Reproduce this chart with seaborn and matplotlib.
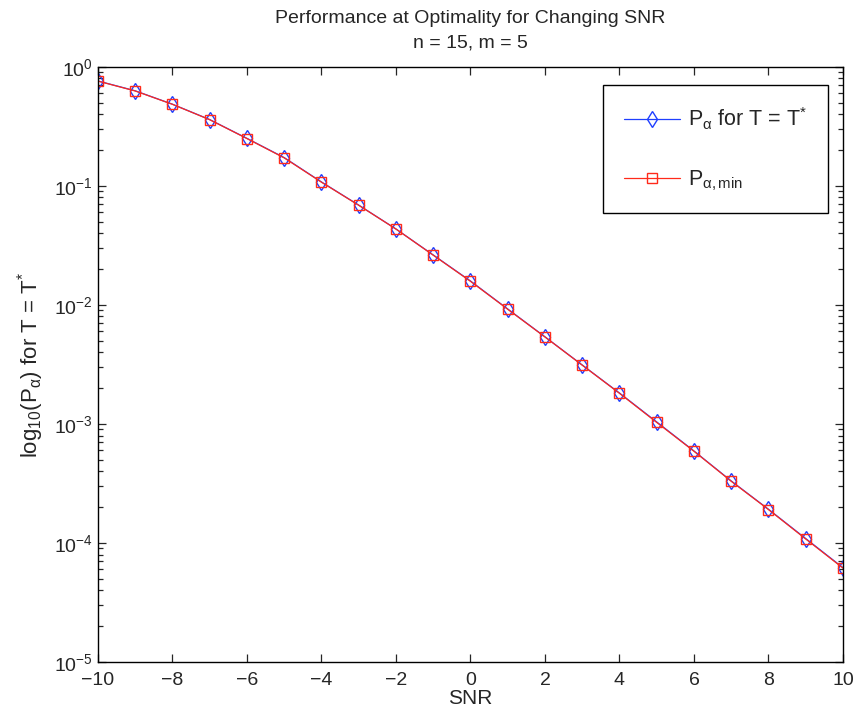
import numpy as np
import pandas as pd
import matplotlib
matplotlib.use('Agg')
import matplotlib.pyplot as plt
import seaborn as sns
from matplotlib.ticker import LogLocator, NullFormatter

# values
snr = [-10, -9, -8, -7, -6, -5, -4, -3, -2, -1, 0, 1, 2, 3, 4, 5, 6, 7, 8, 9, 10]
p_alpha_opt = [0.762, 0.63, 0.486, 0.361, 0.251, 0.173, 0.108, 0.069, 0.0435, 0.0263,
               0.0159, 0.00925, 0.0054, 0.00313, 0.00182, 0.00104, 5.93e-4, 3.32e-4,
               1.92e-4, 1.09e-4, 6.2e-5]
p_alpha_min = [0.760, 0.628, 0.485, 0.360, 0.250, 0.172, 0.1075, 0.0688, 0.0434, 0.0262,
               0.0158, 0.0092, 0.00538, 0.00312, 0.00181, 0.00103, 5.9e-4, 3.3e-4,
               1.91e-4, 1.08e-4, 6.15e-5]

df = pd.DataFrame({'SNR': snr, 'opt': p_alpha_opt, 'min': p_alpha_min})

sns.set_style('ticks')
plt.rcParams['font.family'] = ['Liberation Sans', 'DejaVu Sans']
plt.rcParams['mathtext.fontset'] = 'custom'
plt.rcParams['mathtext.rm'] = 'Liberation Sans'
plt.rcParams['mathtext.it'] = 'Liberation Sans:italic'
plt.rcParams['mathtext.default'] = 'rm'
plt.rcParams['xtick.direction'] = 'in'
plt.rcParams['ytick.direction'] = 'in'

fig = plt.figure(figsize=(8.58, 7.12), dpi=100)
ax = fig.add_axes([0.1142, 0.0702, 0.8683, 0.8358])

sns.lineplot(data=df, x='SNR', y='opt', ax=ax, color='#1f3fff', lw=0.9,
             marker='d', markersize=8.5, markerfacecolor='none',
             markeredgecolor='#1f3fff', markeredgewidth=1.0,
             label=r'$\mathrm{P}_{\alpha}$ for T = T$^{*}$')
sns.lineplot(data=df, x='SNR', y='min', ax=ax, color='#ff2a1a', lw=0.9,
             marker='s', markersize=7, markerfacecolor='none',
             markeredgecolor='#ff2a1a', markeredgewidth=1.0,
             label=r'$\mathrm{P}_{\alpha,\mathrm{min}}$')

ax.set_yscale('log')
ax.set_xlim(-10, 10)
ax.set_ylim(1e-5, 1e0)
ax.set_xticks(range(-10, 11, 2))
ax.set_xticklabels([str(v).replace('-', '\u2212') for v in range(-10, 11, 2)])
ax.yaxis.set_major_locator(LogLocator(base=10, numticks=10))
ax.yaxis.set_minor_locator(LogLocator(base=10, subs=np.arange(2, 10), numticks=20))
ax.yaxis.set_minor_formatter(NullFormatter())

ax.tick_params(axis='both', which='both', top=True, right=True, labelsize=14, width=0.9)
ax.tick_params(axis='both', which='major', length=6)
ax.tick_params(axis='x', which='major', pad=7)
ax.tick_params(axis='y', which='minor', length=3.5)
for s in ax.spines.values():
    s.set_linewidth(1.0)
    s.set_color('black')

ax.set_xlabel('SNR', fontsize=15, labelpad=0)
ax.set_ylabel(r'log$_{10}$(P$_{\alpha}$) for T = T$^{*}$', fontsize=16, labelpad=6)
ax.set_title('Performance at Optimality for Changing SNR\nn = 15, m = 5', fontsize=14, pad=14,
             linespacing=1.6)

leg = ax.legend(loc='upper right', bbox_to_anchor=(0.98, 0.97), fontsize=15.5, frameon=True,
                fancybox=False, edgecolor='black', framealpha=1, borderpad=0.95,
                labelspacing=1.7, handlelength=2.6, handletextpad=0.4, borderaxespad=0)
leg.get_frame().set_linewidth(1.0)

fig.savefig('out.png', dpi=100)
